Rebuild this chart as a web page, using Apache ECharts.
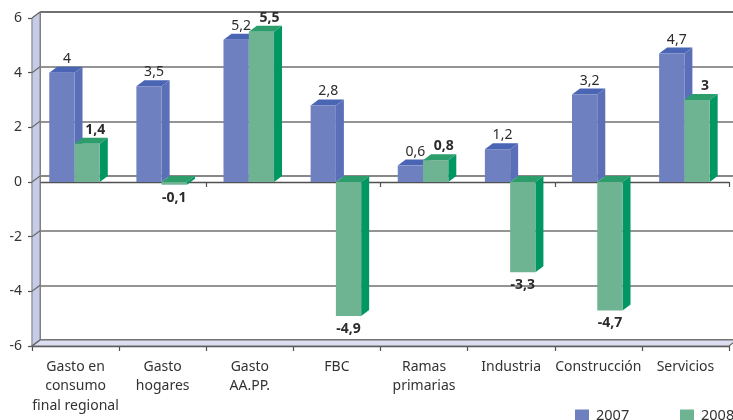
<!DOCTYPE html>
<html>
<head>
<meta charset="utf-8">
<script src="https://cdn.jsdelivr.net/npm/echarts@6/dist/echarts.min.js"></script>
<style>
  html, body { margin: 0; padding: 0; background: #ffffff; }
  #chart { width: 733px; height: 420px; }
</style>
</head>
<body>
<div id="chart"></div>
<script>
// Tasas de variación por componente de demanda y rama de actividad
const categories = [
  'Gasto en\nconsumo\nfinal regional',
  'Gasto\nhogares',
  'Gasto\nAA.PP.',
  'FBC',
  'Ramas\nprimarias',
  'Industria',
  'Construcción',
  'Servicios'
];
const values2007 = [4, 3.5, 5.2, 2.8, 0.6, 1.2, 3.2, 4.7];
const values2008 = [1.4, -0.1, 5.5, -4.9, 0.8, -3.3, -4.7, 3];
const yMin = -6, yMax = 6, yStep = 2;

// depth of the pseudo-3D projection (pixels)
const DX = 8, DY = -6;
const FONT = '"Noto Sans", "DejaVu Sans", sans-serif';

const chart = echarts.init(document.getElementById('chart'), null, { renderer: 'canvas' });

const fmt = v => String(v).replace('.', ',');

function barSeries(name, values, slot, colors, bold, labelShift) {
  return {
    type: 'custom',
    name: name,
    xAxisIndex: 0,
    yAxisIndex: 0,
    z: 3,
    itemStyle: { color: colors.front },
    data: values.map((v, i) => [i, v]),
    renderItem: function (params, api) {
      const i = api.value(0), v = api.value(1);
      const base = api.coord([i, 0]);
      const tip = api.coord([i, v]);
      const cw = api.size([1, 0])[0];
      const w = cw * 0.29;
      const cx = base[0] - cw * 0.012;
      const x0 = slot === 0 ? cx - w : cx;
      const x1 = x0 + w;
      const yHi = Math.min(base[1], tip[1]);
      const yLo = Math.max(base[1], tip[1]);
      const mid = (x0 + x1) / 2;
      const label = v >= 0
        ? { x: mid + labelShift, y: tip[1] - 14 }
        : { x: mid, y: tip[1] + 13 };
      return {
        type: 'group',
        children: [
          {
            type: 'polygon',
            shape: { points: [[x0, yHi], [x0 + DX, yHi + DY], [x1 + DX, yHi + DY], [x1, yHi]] },
            style: { fill: colors.top }
          },
          {
            type: 'polygon',
            shape: { points: [[x1, yHi], [x1 + DX, yHi + DY], [x1 + DX, yLo + DY], [x1, yLo]] },
            style: { fill: colors.side }
          },
          {
            type: 'rect',
            shape: { x: x0, y: yHi, width: w, height: Math.max(yLo - yHi, 0.5) },
            style: { fill: colors.front }
          },
          {
            type: 'text',
            z2: 10,
            style: {
              text: fmt(v),
              x: label.x,
              y: label.y,
              align: 'center',
              verticalAlign: 'middle',
              fill: '#2b2b2b',
              font: (bold ? 'bold ' : '') + '14px ' + FONT
            }
          }
        ]
      };
    }
  };
}

// side wall, floor and the wall edges of the gridlines
const wallSeries = {
  type: 'custom',
  name: 'paredes',
  xAxisIndex: 0,
  yAxisIndex: 0,
  z: 1,
  silent: true,
  data: [[0, 0]],
  renderItem: function (params, api) {
    const cs = params.coordSys;
    const gx = cs.x, gw = cs.width;
    const yTop = api.coord([0, yMax])[1];
    const yBot = api.coord([0, yMin])[1];
    const children = [
      {
        type: 'polygon',
        shape: { points: [[gx, yTop], [gx + DX, yTop + DY], [gx + DX, yBot + DY], [gx, yBot]] },
        style: { fill: '#c6cbe8', stroke: '#808080', lineWidth: 1 }
      },
      {
        type: 'polygon',
        shape: { points: [[gx, yBot], [gx + DX, yBot + DY], [gx + gw + DX, yBot + DY], [gx + gw, yBot]] },
        style: { fill: '#dcdef2', stroke: '#6a6a6a', lineWidth: 1.2 }
      }
    ];
    for (let t = yMin; t <= yMax; t += yStep) {
      const y = api.coord([0, t])[1];
      children.push({
        type: 'line',
        shape: { x1: gx, y1: y, x2: gx + DX, y2: y + DY },
        style: { stroke: '#6a6a6a', lineWidth: 1.2 }
      });
    }
    return { type: 'group', children: children };
  }
};

const option = {
  backgroundColor: '#ffffff',
  animation: false,
  textStyle: { fontFamily: FONT },
  grid: [
    { left: 32, right: 4, top: 18, bottom: 74 },           // front plane
    { left: 32 + DX, right: 4 - DX, top: 18 + DY, bottom: 74 - DY }, // back wall
    { left: 32, right: 4, top: 18, bottom: 74 }            // front plane, zero line
  ],
  legend: [
    {
      data: ['2007'], left: 575, top: 408, padding: 0,
      itemWidth: 14, itemHeight: 12, icon: 'rect',
      textStyle: { fontSize: 14.5, color: '#333', fontFamily: FONT, padding: [0, 0, 0, 2] }
    },
    {
      data: ['2008'], left: 680, top: 408, padding: 0,
      itemWidth: 14, itemHeight: 12, icon: 'rect',
      textStyle: { fontSize: 14.5, color: '#333', fontFamily: FONT, padding: [0, 0, 0, 2] }
    }
  ],
  xAxis: [
    {
      gridIndex: 0, type: 'category', data: categories, boundaryGap: true,
      axisLine: { onZero: false, lineStyle: { color: '#505050', width: 1.3 } },
      axisTick: { show: true, length: 5, lineStyle: { color: '#505050', width: 1.2 } },
      axisLabel: { color: '#333', fontSize: 14, lineHeight: 19.5, margin: 11, interval: 0, fontFamily: FONT }
    },
    {
      gridIndex: 1, type: 'category', data: categories, show: false
    },
    {
      gridIndex: 2, type: 'category', data: categories, boundaryGap: true,
      axisLine: { onZero: true, lineStyle: { color: '#505050', width: 1.3 } },
      axisTick: { show: true, length: 5, lineStyle: { color: '#505050', width: 1.2 } },
      axisLabel: { show: false }
    }
  ],
  yAxis: [
    {
      gridIndex: 0, type: 'value', min: yMin, max: yMax, interval: yStep,
      axisLine: { show: true, lineStyle: { color: '#505050', width: 1.3 } },
      axisTick: { show: true, length: 4, lineStyle: { color: '#505050', width: 1.2 } },
      axisLabel: { color: '#333', fontSize: 14, margin: 10, fontFamily: FONT },
      splitLine: { show: false }
    },
    {
      gridIndex: 1, type: 'value', min: yMin, max: yMax, interval: yStep,
      axisLine: { show: true, lineStyle: { color: '#808080', width: 1 } },
      axisTick: { show: false },
      axisLabel: { show: false },
      splitLine: {
        show: true,
        lineStyle: { color: ['#5a5a5a', '#707070', '#707070', '#606060', '#707070', '#707070', '#404040'], width: 1.5 }
      }
    },
    {
      gridIndex: 2, type: 'value', min: yMin, max: yMax, interval: yStep,
      show: false, splitLine: { show: false }
    }
  ],
  series: [
    wallSeries,
    barSeries('2007', values2007, 0, { front: '#6f80c0', side: '#5a6fb8', top: '#4965b4' }, false, 5),
    barSeries('2008', values2008, 1, { front: '#6eb392', side: '#009762', top: '#2e9d6c' }, true, 8)
  ]
};

chart.setOption(option);
</script>
</body>
</html>
